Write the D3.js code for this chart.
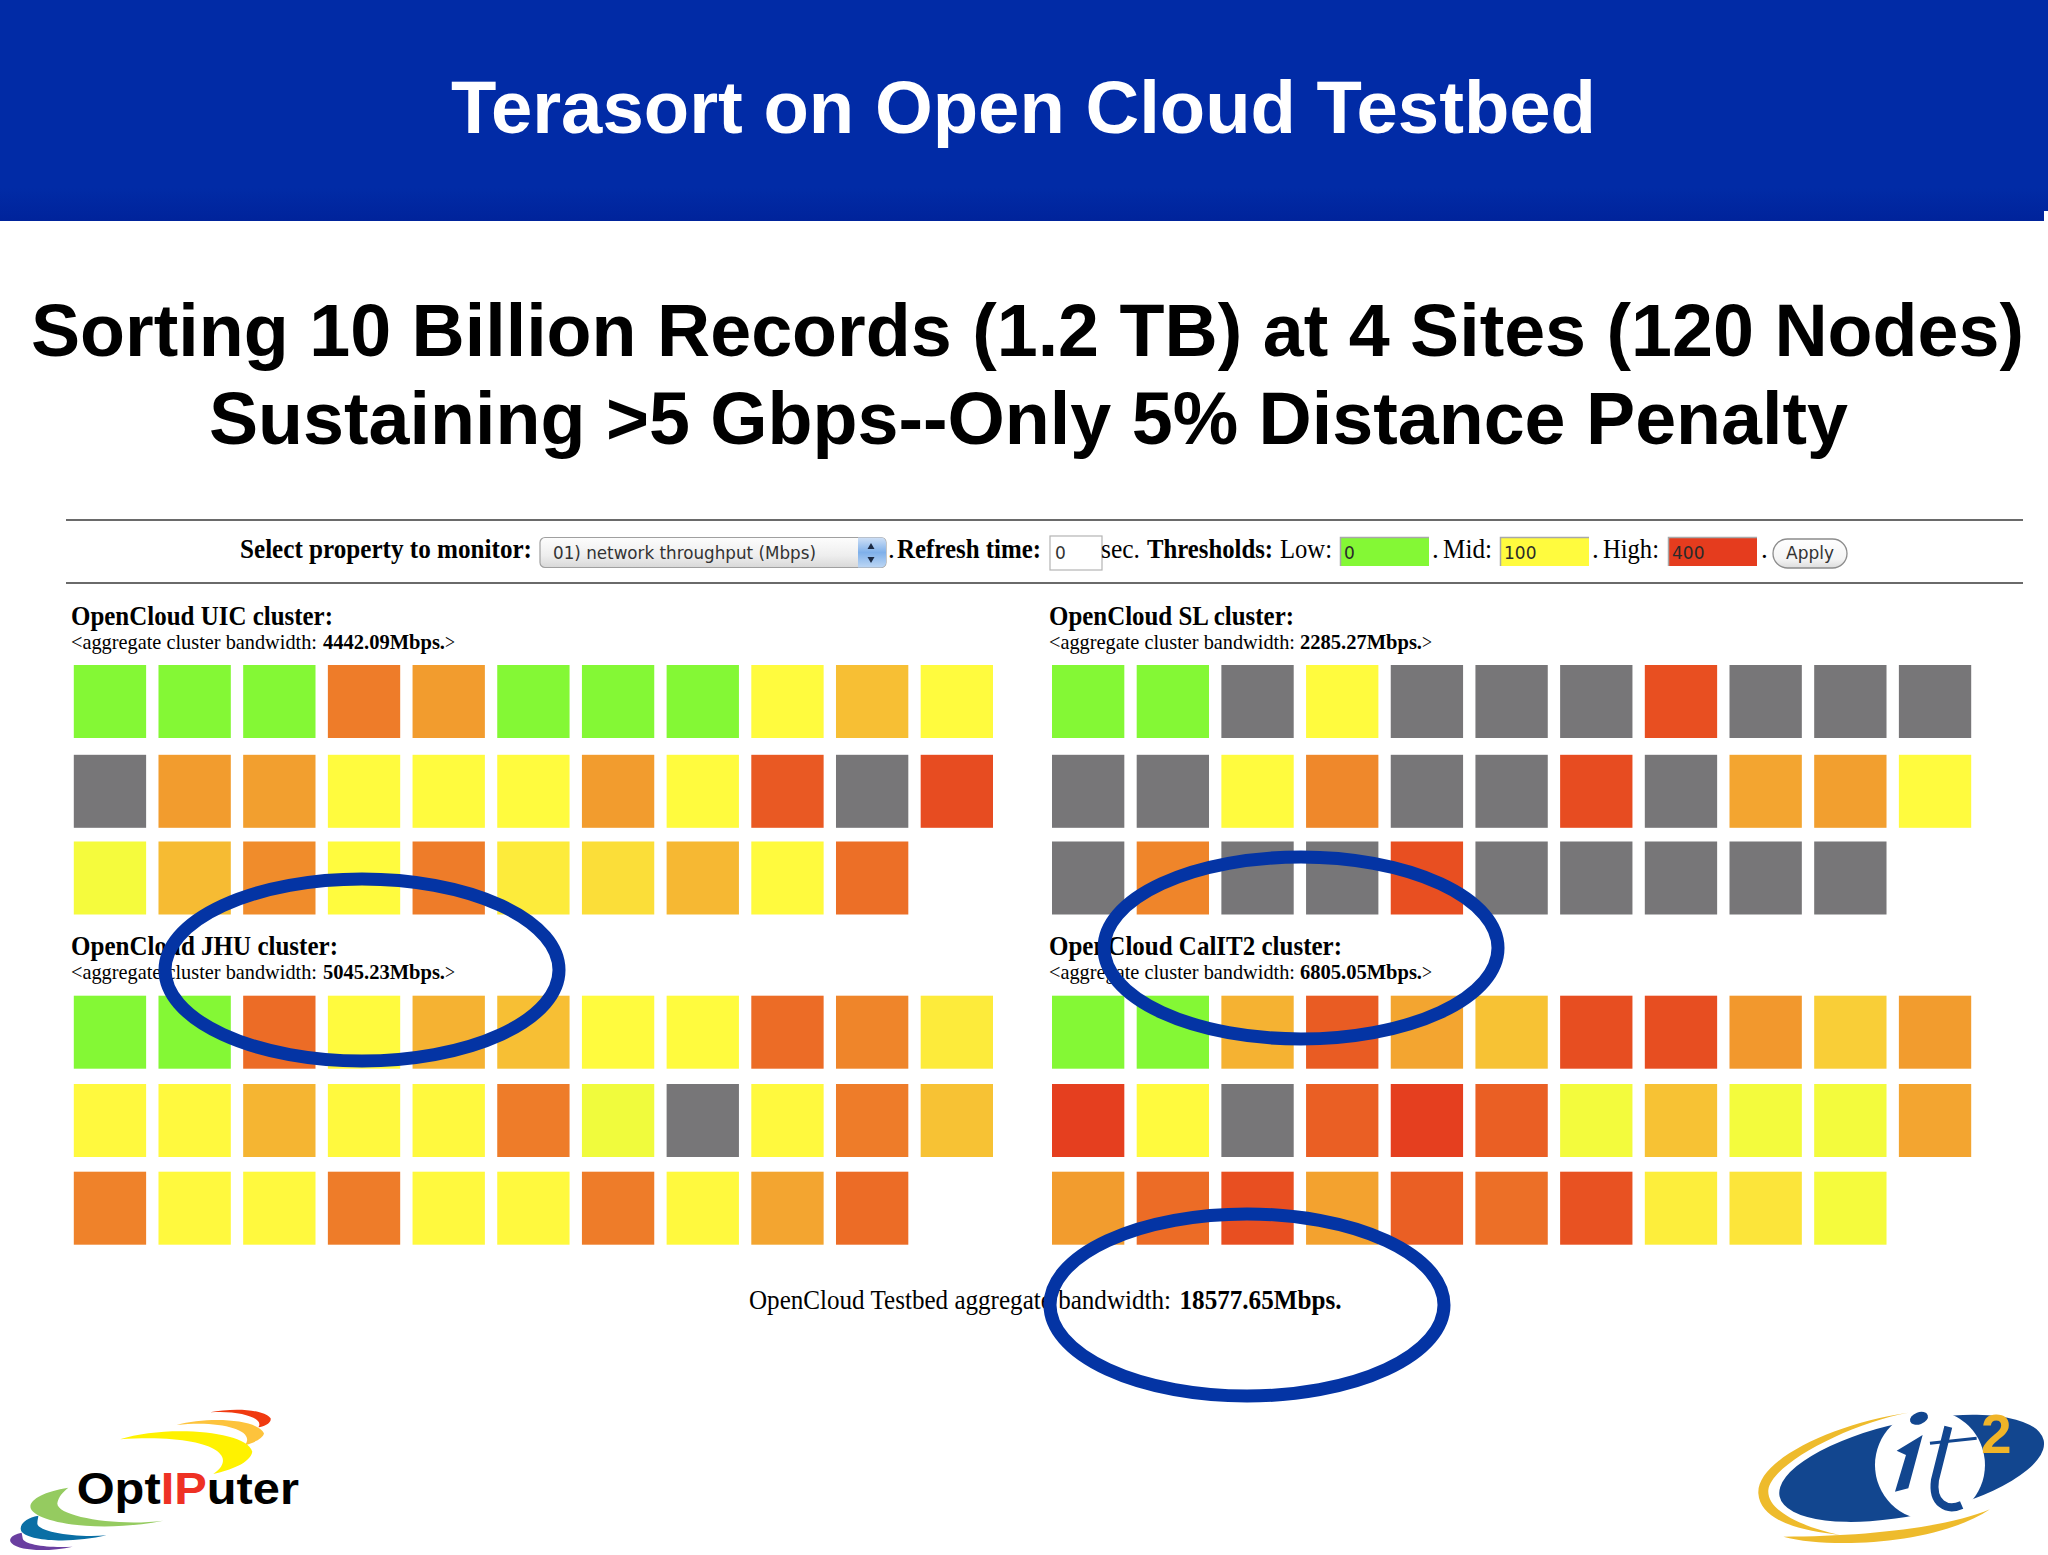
<!DOCTYPE html>
<html>
<head>
<meta charset="utf-8">
<title>Terasort on Open Cloud Testbed</title>
<script src="https://cdn.jsdelivr.net/npm/d3@7"></script>
<style>
  html, body { margin: 0; padding: 0; background: #fff; }
  svg { display: block; }
</style>
</head>
<body>
<div id="chart"></div>
<script>
// Node throughput per cluster in Mbps. null = no data (grey cell)
const uicValues = [
  0, 0, 0, 300, 250, 0, 0, 0, 100, 195, 100,
  null, 250, 245, 100, 100, 100, 250, 100, 355, null, 375,
  92, 200, 275, 100, 300, 125, 145, 205, 102, 320
];
const slValues = [
  0, 0, null, 100, null, null, null, 370, null, null, null,
  null, null, 100, 280, null, null, 375, null, 235, 245, 100,
  null, 285, null, null, 370, null, null, null, null, null
];
const jhuValues = [
  0, 0, 325, 102, 215, 195, 100, 100, 325, 285, 125,
  103, 103, 210, 103, 103, 300, 88, null, 103, 300, 190,
  290, 103, 103, 300, 103, 103, 300, 103, 235, 325
];
const calit2Values = [
  0, 0, 215, 350, 235, 190, 372, 372, 255, 170, 250,
  395, 102, null, 345, 395, 345, 90, 190, 90, 90, 235,
  250, 325, 370, 240, 345, 320, 365, 120, 135, 92
];

const clusterNames = ["UIC", "SL", "JHU", "CalIT2"];
const clusterBandwidths = ["4442.09", "2285.27", "5045.23", "6805.05"];
const clusterSeries = [uicValues, slValues, jhuValues, calit2Values];
const totalBandwidth = "18577.65";
const thresholdValues = [0, 100, 400];
const thresholdColors = ["#84f835", "#fffb3e", "#e53c1e"];
const noDataColor = "#777678";

const width = 2048, height = 1555;
const serif = "'Liberation Serif', serif";
const sans = "'Liberation Sans', Arial, sans-serif";
const uiFont = "'DejaVu Sans', sans-serif";

const svg = d3.select("#chart").append("svg")
  .attr("width", width)
  .attr("height", height)
  .attr("viewBox", `0 0 ${width} ${height}`);

const defs = svg.append("defs");
function gradient(id, stops) {
  let g = defs.append("linearGradient").attr("id", id)
    .attr("x1", 0).attr("y1", 0).attr("x2", 0).attr("y2", 1);
  stops.forEach(s => g.append("stop").attr("offset", s[0]).attr("stop-color", s[1]));
}
gradient("bandGrad", [[0, "#012ba6"], [0.85, "#012ba6"], [1, "#00239b"]]);
gradient("selectGrad", [[0, "#fdfdfd"], [0.6, "#eeeeee"], [1, "#d8d8d8"]]);
gradient("arrowGrad", [[0, "#cfe0f6"], [0.5, "#7fb0ea"], [1, "#bcd6f4"]]);
gradient("applyGrad", [[0, "#ffffff"], [0.7, "#f4f4f4"], [1, "#dcdcdc"]]);

// every text is fitted to the width it has in the slide
function addText(parent, str, x, y, w, size, opts = {}) {
  let t = parent.append("text")
    .attr("x", x)
    .attr("y", y)
    .attr("font-family", opts.family || serif)
    .attr("font-size", size)
    .attr("font-weight", opts.weight || "normal")
    .attr("fill", opts.fill || "#000")
    .text(str);
  if (w) t.attr("textLength", w).attr("lengthAdjust", "spacingAndGlyphs");
  return t;
}

// Header band and headlines
svg.append("rect").attr("width", width).attr("height", 221).attr("fill", "url(#bandGrad)");
svg.append("rect").attr("x", 2044).attr("y", 211).attr("width", 4).attr("height", 10).attr("fill", "#fff");
addText(svg, "Terasort on Open Cloud Testbed", 451, 133, 1145, 74, { family: sans, weight: "bold", fill: "#fff" });
addText(svg, "Sorting 10 Billion Records (1.2 TB) at 4 Sites (120 Nodes)", 31, 356, 1993, 74, { family: sans, weight: "bold" });
addText(svg, "Sustaining >5 Gbps--Only 5% Distance Penalty", 209, 444, 1639, 74, { family: sans, weight: "bold" });

// Control bar
const bar = svg.append("g");
[520, 583].forEach(y => bar.append("line")
  .attr("x1", 66).attr("x2", 2023).attr("y1", y).attr("y2", y)
  .attr("stroke", "#6a6a6a").attr("stroke-width", 2));

addText(bar, "Select property to monitor:", 240, 558, 292, 27, { weight: "bold" });
bar.append("rect").attr("x", 540).attr("y", 537.5).attr("width", 346).attr("height", 30).attr("rx", 5)
  .attr("fill", "url(#selectGrad)").attr("stroke", "#a0a0a0").attr("stroke-width", 1.2);
bar.append("path").attr("d", "M858,537.5 H881 a5,5 0 0 1 5,5 V562.5 a5,5 0 0 1 -5,5 H858 Z")
  .attr("fill", "url(#arrowGrad)");
bar.append("path").attr("d", "M871,543 l-3.5,6 h7 Z M871,563 l-3.5,-6 h7 Z").attr("fill", "#1c2a44");
addText(bar, "01) network throughput (Mbps)", 553, 559, 263, 17, { family: uiFont, fill: "#333" });

addText(bar, ".", 888, 558, null, 27);
addText(bar, "Refresh time:", 897, 558, 144, 27, { weight: "bold" });
bar.append("rect").attr("x", 1050).attr("y", 536).attr("width", 52).attr("height", 34)
  .attr("fill", "#fff").attr("stroke", "#b4b4b4").attr("stroke-width", 1.2);
addText(bar, "0", 1055, 559, null, 17, { family: uiFont, fill: "#333" });
addText(bar, "sec.", 1101, 558, 39, 27);
addText(bar, "Thresholds:", 1147, 558, 126, 27, { weight: "bold" });
addText(bar, "Low:", 1280, 558, 52, 27);
addText(bar, ".", 1432, 558, null, 27);
addText(bar, "Mid:", 1443, 558, 49, 27);
addText(bar, ".", 1592, 558, null, 27);
addText(bar, "High:", 1603, 558, 56, 27);
addText(bar, ".", 1761, 558, null, 27);

const thresholdBoxes = bar.selectAll("g.threshold")
  .data(thresholdValues)
  .enter().append("g")
  .attr("class", "threshold")
  .attr("transform", (d, i) => `translate(${[1340, 1500, 1668][i]},537)`);
thresholdBoxes.append("rect").attr("width", 89).attr("height", 29)
  .attr("fill", (d, i) => thresholdColors[i]);
thresholdBoxes.append("path").attr("d", "M0.5,29 V0.5 H89")
  .attr("fill", "none").attr("stroke", "#a8a8a8").attr("stroke-width", 1.5);
thresholdBoxes.append("text").attr("x", 4).attr("y", 22)
  .attr("font-family", uiFont).attr("font-size", 17).attr("fill", "#2a2a2a")
  .text(d => d);

bar.append("rect").attr("x", 1773).attr("y", 539).attr("width", 74).attr("height", 29).attr("rx", 14.5)
  .attr("fill", "url(#applyGrad)").attr("stroke", "#8c8c8c").attr("stroke-width", 1.3);
addText(bar, "Apply", 1786, 559, 48, 17, { family: uiFont, fill: "#333" });

// Node cells
const colorScale = d3.scaleLinear().domain(thresholdValues).range(thresholdColors)
  .interpolate(d3.interpolateRgb);
const columns = d3.range(11), perRow = 11;
const xLeft = d3.scaleBand().domain(columns).range([73.8, 993]).paddingInner(0.146).paddingOuter(0);
const xRight = d3.scaleBand().domain(columns).range([1052, 1971.2]).paddingInner(0.146).paddingOuter(0);
const yTop = d3.scaleOrdinal().domain([0, 1, 2]).range([665, 754.8, 841.5]);
const yBottom = d3.scaleOrdinal().domain([0, 1, 2]).range([995.7, 1084, 1171.7]);
const cellHeight = 73;

const clusterLayout = [
  { x: xLeft, y: yTop, tx: 71, head: 262, nameY: 625, subY: 649, subW: 246, valX: 323 },
  { x: xRight, y: yTop, tx: 1049, head: 245, nameY: 625, subY: 649, subW: 246, valX: 1300 },
  { x: xLeft, y: yBottom, tx: 71, head: 267, nameY: 955, subY: 979, subW: 246, valX: 323 },
  { x: xRight, y: yBottom, tx: 1049, head: 293, nameY: 955, subY: 979, subW: 246, valX: 1300 }
];

clusterNames.forEach((name, k) => {
  const l = clusterLayout[k];
  const g = svg.append("g").attr("class", "cluster");
  addText(g, `OpenCloud ${name} cluster:`, l.tx, l.nameY, l.head, 27, { weight: "bold" });
  addText(g, "<aggregate cluster bandwidth:", l.tx, l.subY, l.subW, 21);
  addText(g, `${clusterBandwidths[k]}Mbps.`, l.valX, l.subY, 122, 21, { weight: "bold" });
  addText(g, ">", l.valX + 122, l.subY, 10, 21);

  g.selectAll("rect.node")
    .data(clusterSeries[k])
    .enter().append("rect")
    .attr("class", "node")
    .attr("x", (d, i) => l.x(i % perRow))
    .attr("y", (d, i) => l.y(Math.floor(i / perRow)))
    .attr("width", l.x.bandwidth())
    .attr("height", cellHeight)
    .attr("fill", d => d === null ? noDataColor : colorScale(d));
});

// Total line
addText(svg, "OpenCloud Testbed aggregate bandwidth:", 749, 1309, 422, 27);
addText(svg, `${totalBandwidth}Mbps.`, 1179.5, 1309, 162, 27, { weight: "bold" });

// Hand drawn highlight ellipses, on top of the page
const highlights = svg.append("g").attr("fill", "none").attr("stroke", "#0434a4").attr("stroke-width", 13);
[[362, 970], [1301, 948], [1247, 1305]].forEach(c => highlights.append("ellipse")
  .attr("cx", c[0]).attr("cy", c[1]).attr("rx", 197).attr("ry", 91));

// OptIPuter logo, drawn in the 3x coordinates of its crop
const optiLogo = svg.append("g").attr("transform", "translate(0,1380) scale(0.3333)");
[
  ["M630,97 C690,85 790,85 812,115 C815,130 790,140 775,142 C795,115 720,90 630,97 Z", "#f03a10"],
  ["M530,135 C620,110 770,115 792,160 C790,175 760,190 735,195 C770,150 660,120 530,135 Z", "#fdc33c"],
  ["M360,178 C490,135 740,150 757,215 C750,250 690,270 640,282 C720,230 640,160 360,178 Z", "#fff200"],
  ["M205,323 C130,335 85,360 92,385 C110,430 300,460 490,422 C350,440 170,410 172,370 C175,350 190,335 205,323 Z", "#95cb60"],
  ["M115,407 C70,415 55,440 65,455 C90,485 220,490 320,466 C230,475 110,455 112,430 C112,420 115,412 115,407 Z", "#0a6fa5"],
  ["M65,458 C30,465 25,480 35,490 C60,515 150,515 218,500 C150,505 70,495 68,475 Z", "#6a3fa0"]
].forEach(p => optiLogo.append("path").attr("d", p[0]).attr("fill", p[1]));
const optiText = addText(optiLogo, "", 230, 372, 667, 132, { family: sans, weight: "bold" });
optiText.append("tspan").text("Opt");
optiText.append("tspan").attr("fill", "#ee3124").text("IP");
optiText.append("tspan").text("uter");

// it2 logo, same idea
const itLogo = svg.append("g").attr("transform", "translate(1700,1380) scale(0.3333)");
itLogo.append("ellipse").attr("cx", 635).attr("cy", 265).attr("rx", 405).attr("ry", 140)
  .attr("transform", "rotate(-12 635 265)").attr("fill", "#12468f");
itLogo.append("circle").attr("cx", 690).attr("cy", 255).attr("r", 165).attr("fill", "#fff");
itLogo.append("path").attr("d", "M625,98 C400,130 170,240 175,340 C180,420 290,450 420,465 C300,440 200,390 205,330 C215,250 450,130 625,98 Z")
  .attr("fill", "#eebb2c");
itLogo.append("path").attr("d", "M250,470 C400,510 720,490 870,388 C750,440 500,470 250,470 Z").attr("fill", "#eebb2c");
itLogo.append("ellipse").attr("cx", 657).attr("cy", 115).attr("rx", 28).attr("ry", 18)
  .attr("transform", "rotate(-20 657 115)").attr("fill", "#12468f");
itLogo.append("path").attr("d", "M590,212 L668,165 L625,325 L585,335 L618,225 Z").attr("fill", "#12468f");
itLogo.append("path").attr("d", "M745,140 L705,300 C695,370 740,395 785,375")
  .attr("fill", "none").attr("stroke", "#12468f").attr("stroke-width", 24);
itLogo.append("path").attr("d", "M690,190 L830,175")
  .attr("fill", "none").attr("stroke", "#12468f").attr("stroke-width", 9);
addText(itLogo, "2", 843, 218, null, 165, { family: sans, weight: "bold", fill: "#f0b428" });
</script>
</body>
</html>
